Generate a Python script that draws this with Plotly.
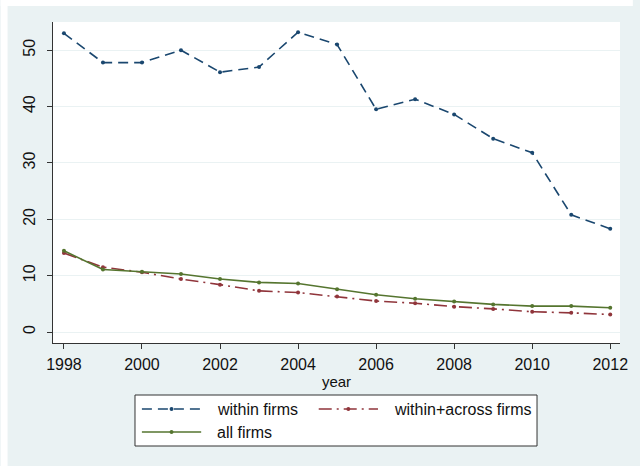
import plotly.graph_objects as go

# Share of output (%) by year, three measures
years = list(range(1998, 2013))
within_firms = [53.0, 47.8, 47.8, 50.0, 46.1, 47.0, 53.2, 51.0, 39.5, 41.3, 38.6, 34.3, 31.8, 20.8, 18.3]
within_across = [14.0, 11.5, 10.6, 9.4, 8.4, 7.3, 7.0, 6.3, 5.5, 5.1, 4.5, 4.1, 3.6, 3.4, 3.1]
all_firms = [14.4, 11.1, 10.7, 10.3, 9.4, 8.8, 8.6, 7.6, 6.6, 5.9, 5.4, 4.9, 4.6, 4.6, 4.3]

series_names = ["within firms", "within+across firms", "all firms"]
series_colors = ["#1A476F", "#90353B", "#55752F"]
series_dash = ["10px,6px", "13px,5px,2px,5px", "solid"]
y_ticks = [0, 10, 20, 30, 40, 50]
x_ticks = list(range(1998, 2013, 2))

W, H = 640, 466
ML, MR, MT, MB = 53, 13, 22, 123
PW, PH = W - ML - MR, H - MT - MB
BG = "#EAF2F3"
FONT = "Liberation Sans, Arial, sans-serif"


def px_x(x):
    return (x - ML) / PW


def px_y(y):
    return (H - MB - y) / PH


fig = go.Figure()
for name, vals, col, dash in zip(series_names, [within_firms, within_across, all_firms],
                                 series_colors, series_dash):
    fig.add_trace(go.Scatter(
        x=years, y=vals, name=name, mode="lines+markers",
        line=dict(color=col, width=1.6, dash=dash),
        marker=dict(color=col, size=4, symbol="circle"),
        showlegend=False,
    ))

shapes = []
annotations = []
# white frame along the top and left edges of the page
shapes.append(dict(type="rect", xref="paper", yref="paper", x0=px_x(0), x1=px_x(W),
                   y0=px_y(6), y1=px_y(0), fillcolor="white", line=dict(width=0), layer="below"))
shapes.append(dict(type="rect", xref="paper", yref="paper", x0=px_x(0), x1=px_x(7),
                   y0=px_y(H), y1=px_y(0), fillcolor="white", line=dict(width=0), layer="below"))

# legend box
shapes.append(dict(type="rect", xref="paper", yref="paper", x0=px_x(136), x1=px_x(543),
                   y0=px_y(446), y1=px_y(395), fillcolor="white",
                   line=dict(color="#333333", width=1)))
legend_slots = [(143, 409), (322, 409), (143, 432)]
for (lx, ly), name, col, dash in zip(legend_slots, series_names, series_colors, series_dash):
    shapes.append(dict(type="line", xref="paper", yref="paper", x0=px_x(lx), x1=px_x(lx + 60),
                       y0=px_y(ly), y1=px_y(ly), line=dict(color=col, width=1.6, dash=dash)))
    mx = lx + 30
    shapes.append(dict(type="circle", xref="paper", yref="paper", x0=px_x(mx - 2), x1=px_x(mx + 2),
                       y0=px_y(ly + 2), y1=px_y(ly - 2), fillcolor=col, line=dict(width=0)))
    annotations.append(dict(text=name, xref="paper", yref="paper", x=px_x(lx + 74), y=px_y(ly),
                            xanchor="left", yanchor="middle", showarrow=False,
                            font=dict(family=FONT, size=16, color="#111111")))

fig.update_layout(
    width=W, height=H,
    margin=dict(l=ML, r=MR, t=MT, b=MB, pad=0),
    paper_bgcolor=BG, plot_bgcolor="white",
    font=dict(family=FONT, size=16, color="#111111"),
    shapes=shapes, annotations=annotations,
    showlegend=False,
)
fig.update_xaxes(
    range=[1997.72, 2012.25], tickvals=x_ticks, ticks="outside", ticklen=5, tickwidth=1,
    tickcolor="#333333", showline=True, linecolor="#333333", linewidth=1,
    showgrid=False, zeroline=False, ticklabelstandoff=2,
    title=dict(text="year", font=dict(size=15), standoff=4),
)
fig.update_yaxes(
    range=[-1.95, 55], tickvals=y_ticks, ticks="outside", ticklen=5, tickwidth=1,
    tickcolor="#333333", showline=True, linecolor="#333333", linewidth=1,
    showgrid=True, gridcolor=BG, gridwidth=1.2, zeroline=False,
    tickangle=-90, ticklabelstandoff=6,
)

fig.write_html("out.html")
